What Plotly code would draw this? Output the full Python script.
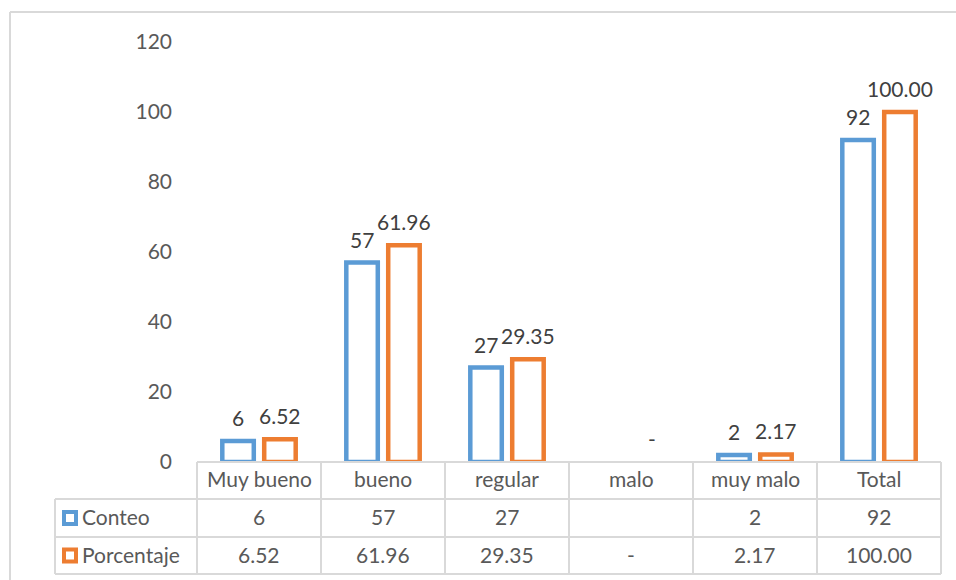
import plotly.graph_objects as go

categories = ["Muy bueno", "bueno", "regular", "malo", "muy malo", "Total"]
conteo = [6, 57, 27, None, 2, 92]
porcentaje = [6.52, 61.96, 29.35, 0, 2.17, 100.00]
series_names = ["Conteo", "Porcentaje"]
colors = ["#5B9BD5", "#ED7D31"]
y_ticks = [0, 20, 40, 60, 80, 100, 120]

W, H = 956, 580
L, R, T, B = 197, 941, 42, 462  # plot area in pixels
FONT = "Lato"
FS = 21
GRAY = "#595959"
LINE = "#d9d9d9"


def px(x):
    return (x - L) / (R - L)


def py(y):
    return (B - y) / (B - T)


def fmt_count(v):
    return "" if v is None else f"{v:g}"


def fmt_pct(v):
    return "-" if v == 0 else f"{v:.2f}"


xs = list(range(len(categories)))
bw = 0.254
offs = [-0.169, 0.169]

fig = go.Figure()
for name, vals, col, off in zip(series_names, [conteo, porcentaje], colors, offs):
    fig.add_trace(go.Bar(
        x=xs, y=vals, name=name,
        width=bw, offset=off - bw / 2,
        marker=dict(color="white",
                    line=dict(color=col, width=[4.5 if v else 0 for v in vals])),
        showlegend=False, hoverinfo="skip",
    ))

annotations = []
# data labels
for vals, off, fmt in [(conteo, offs[0], fmt_count), (porcentaje, offs[1], fmt_pct)]:
    for i, v in enumerate(vals):
        if v is None:
            continue
        annotations.append(dict(
            x=i + off, y=v, xref="x", yref="y", text=fmt(v), showarrow=False,
            xanchor="center", yanchor="bottom", yshift=9,
            font=dict(family=FONT, size=FS, color="#404040"),
        ))

# table
shapes = []
col_w = (R - L) / len(categories)
row_lines = [B, 499, 537, 574]
leg_left = 55
lw = dict(color=LINE, width=2)
shapes.append(dict(type="line", xref="paper", yref="paper", x0=px(L), x1=px(R), y0=py(B), y1=py(B), line=lw))
for yy in row_lines[1:]:
    shapes.append(dict(type="line", xref="paper", yref="paper", x0=px(leg_left), x1=px(R), y0=py(yy), y1=py(yy),
                       line=lw))
for k in range(len(categories) + 1):
    xx = L + k * col_w
    shapes.append(dict(type="line", xref="paper", yref="paper", x0=px(xx), x1=px(xx), y0=py(B), y1=py(574),
                       line=lw))
shapes.append(dict(type="line", xref="paper", yref="paper", x0=px(leg_left), x1=px(leg_left), y0=py(499),
                   y1=py(574), line=lw))
# outer chart border (top & left)
shapes.append(dict(type="line", xref="paper", yref="paper", x0=px(10), x1=px(W + 5), y0=py(12), y1=py(12), line=lw))
shapes.append(dict(type="line", xref="paper", yref="paper", x0=px(10), x1=px(10), y0=py(12), y1=py(H + 5), line=lw))


def cell(x, y, text, anchor="center"):
    return dict(x=px(x), y=py(y), xref="paper", yref="paper", text=text, showarrow=False,
                xanchor=anchor, yanchor="middle", font=dict(family=FONT, size=FS, color=GRAY))


row_centers = [478, 516, 554]
for k, c in enumerate(categories):
    cx = L + (k + 0.5) * col_w
    annotations.append(cell(cx, row_centers[0], c))
    annotations.append(cell(cx, row_centers[1], fmt_count(conteo[k])))
    annotations.append(cell(cx, row_centers[2], fmt_pct(porcentaje[k])))

# legend keys in table
for r, (name, col) in enumerate(zip(series_names, colors)):
    cy = (row_lines[r + 1] + row_lines[r + 2]) / 2
    shapes.append(dict(type="rect", xref="paper", yref="paper", x0=px(64), x1=px(76), y0=py(cy + 6), y1=py(cy - 6),
                       line=dict(color=col, width=4), fillcolor="white"))
    annotations.append(cell(80, row_centers[r + 1], name, "left"))

fig.update_layout(
    width=W, height=H,
    margin=dict(l=L, r=W - R, t=T, b=H - B),
    paper_bgcolor="white", plot_bgcolor="white",
    xaxis=dict(range=[-0.5, len(categories) - 0.5], showticklabels=False, showgrid=False, zeroline=False,
               showline=False, fixedrange=True),
    yaxis=dict(range=[0, 120], tickvals=y_ticks, showgrid=False, zeroline=False, showline=False,
               ticklabelstandoff=24, tickfont=dict(family=FONT, size=FS, color=GRAY), fixedrange=True),
    shapes=shapes,
    annotations=annotations,
    font=dict(family=FONT),
)

fig.write_html("out.html", config={"displayModeBar": False})
